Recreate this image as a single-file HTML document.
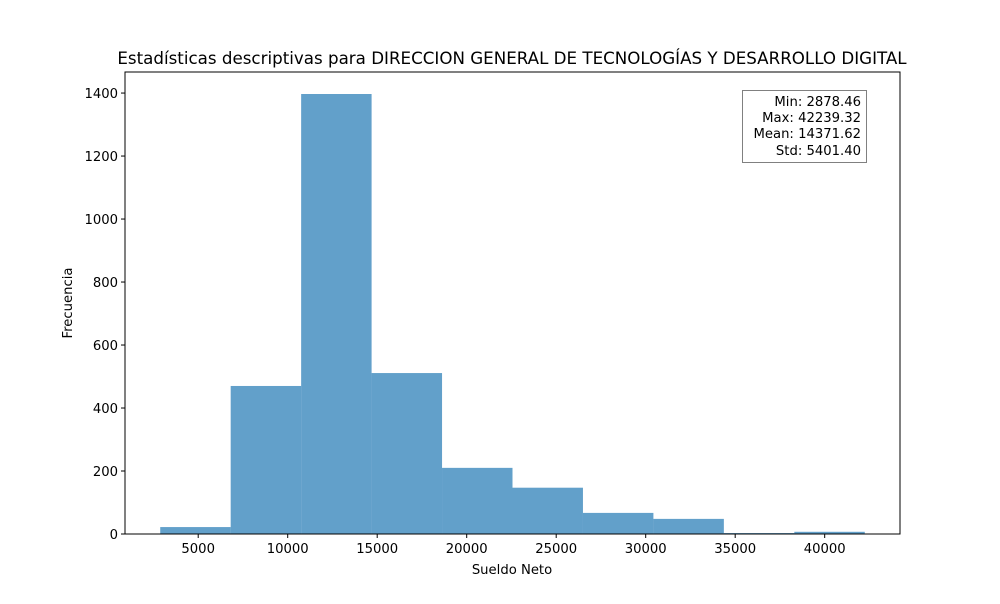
<!DOCTYPE html>
<html><head><meta charset="utf-8"><style>
body{margin:0;background:#fff;font-family:"DejaVu Sans","Liberation Sans",sans-serif}
</style></head><body>
<svg id="chart" width="1000" height="600" xmlns="http://www.w3.org/2000/svg" font-family="DejaVu Sans, Liberation Sans, sans-serif">
<rect width="1000" height="600" fill="#fff"/>
<text x="512" y="64" text-anchor="middle" font-size="16.7">Estadísticas descriptivas para DIRECCION GENERAL DE TECNOLOGÍAS Y DESARROLLO DIGITAL</text>
<g id="bars"></g>
<g id="xticks"></g>
<g id="yticks"></g>
<rect x="125" y="72" width="775" height="462" fill="none" stroke="#000" stroke-width="1"/>
<text x="512" y="574" text-anchor="middle" font-size="13.2">Sueldo Neto</text>
<text transform="translate(72,303) rotate(-90)" text-anchor="middle" font-size="13.2">Frecuencia</text>
<g>
<rect x="742.5" y="90.5" width="124" height="72" fill="#fff" fill-opacity="0.8" stroke="#808080"/>
<text x="861" y="106" text-anchor="end" font-size="13.2">Min: 2878.46</text>
<text x="861" y="122" text-anchor="end" font-size="13.2">Max: 42239.32</text>
<text x="861" y="138" text-anchor="end" font-size="13.2">Mean: 14371.62</text>
<text x="861" y="155" text-anchor="end" font-size="13.2">Std: 5401.40</text>
</g>
</svg>
<script>
const binMin = 2878.46, binMax = 42239.32;
const counts = [22, 470, 1397, 511, 210, 147, 67, 48, 3, 7];
const xTickValues = [5000, 10000, 15000, 20000, 25000, 30000, 35000, 40000];
const yTickValues = [0, 200, 400, 600, 800, 1000, 1200, 1400];
const NS = "http://www.w3.org/2000/svg";
const L = 125, R = 900, T = 72, B = 534;
const span = binMax - binMin, xlo = binMin - 0.05 * span, xhi = binMax + 0.05 * span;
const ymax = Math.max(...counts) * 1.05;
const xs = v => L + (v - xlo) / (xhi - xlo) * (R - L);
const ys = v => B - v / ymax * (B - T);
function mk(tag, attrs, parent) { const e = document.createElementNS(NS, tag); for (const k in attrs) e.setAttribute(k, attrs[k]); parent.appendChild(e); return e; }
const bars = document.getElementById('bars');
const w = span / counts.length;
counts.forEach((c, i) => {
  const x0 = xs(binMin + i * w), x1 = xs(binMin + (i + 1) * w);
  const r = mk('rect', { x: x0, y: ys(c), width: x1 - x0, height: B - ys(c), fill: '#1f77b4', 'fill-opacity': 0.7 }, bars);
  
  
});
const xg = document.getElementById('xticks');
xTickValues.forEach(v => {
  const x = xs(v);
  mk('line', { x1: x, x2: x, y1: B, y2: B + 4, stroke: '#000' }, xg);
  const t = mk('text', { x: x, y: B + 19, 'text-anchor': 'middle', 'font-size': 13.2 }, xg);
  t.textContent = v;
  
  
});
const yg = document.getElementById('yticks');
yTickValues.forEach(v => {
  const y = ys(v);
  mk('line', { x1: L - 4, x2: L, y1: y, y2: y, stroke: '#000' }, yg);
  const t = mk('text', { x: L - 7, y: y + 5, 'text-anchor': 'end', 'font-size': 13.2 }, yg);
  t.textContent = v;
  
  
});
</script>
</body></html>
